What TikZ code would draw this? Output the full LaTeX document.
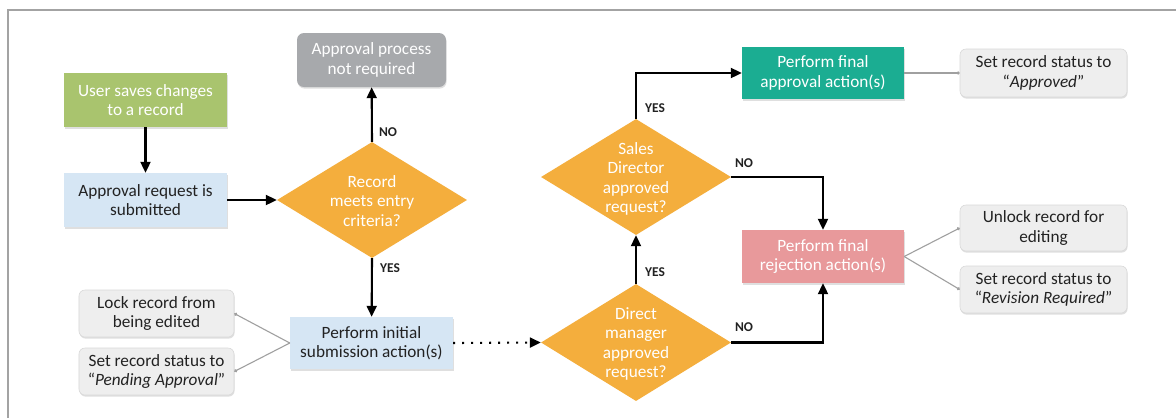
\documentclass[tikz,border=0pt]{standalone}
\usepackage{fontspec}
\setmainfont{Carlito}
\usetikzlibrary{arrows.meta,shapes.geometric,shadows}
\definecolor{frameG}{HTML}{A3A3A3}
\definecolor{greenF}{HTML}{A9C46E}
\definecolor{blueF}{HTML}{D6E6F4}
\definecolor{grayF}{HTML}{A7A9AC}
\definecolor{orangeF}{HTML}{F4AE3D}
\definecolor{tealF}{HTML}{1BAD92}
\definecolor{pinkF}{HTML}{E8999B}
\definecolor{noteF}{HTML}{EEEEEE}
\definecolor{noteD}{HTML}{D9D9D9}
\definecolor{txtD}{HTML}{222222}
\definecolor{connG}{HTML}{A0A0A0}
\tikzset{
  txt/.style={font=\fontsize{17.3}{19.5}\selectfont, align=center},
  boxw/.style={txt, rectangle, inner sep=0pt, text=white,
     drop shadow={shadow xshift=0.6bp, shadow yshift=-1.6bp, opacity=0.25}},
  boxd/.style={txt, rectangle, inner sep=0pt, text=txtD,
     drop shadow={shadow xshift=0.6bp, shadow yshift=-1.6bp, opacity=0.25}},
  note/.style={txt, rectangle, rounded corners=6bp, inner sep=0pt, fill=noteF,
     draw=noteD, line width=0.6bp, text=txtD, minimum width=155bp, minimum height=47bp,
     drop shadow={shadow xshift=0.6bp, shadow yshift=-1.6bp, opacity=0.25}},
  dia/.style={diamond, fill=orangeF, inner sep=0pt, minimum width=190bp, minimum height=116bp},
  dtext/.style={txt, text=white, inner sep=0pt},
  arr/.style={line width=2.1bp, -{Triangle[length=11bp,width=10bp]}},
  conn/.style={connG, line width=1.1bp, -{Circle[length=3.2bp]}},
  lbl/.style={font=\fontsize{13.5}{14}\selectfont\bfseries, text=txtD, inner sep=0pt},
}
\begin{document}
\begin{tikzpicture}[x=1bp,y=-1bp]
\useasboundingbox (0,0) rectangle (1176,418);
\fill[white] (0,0) rectangle (1176,418);
\draw[frameG, line width=2bp] (8,418) -- (8,10) -- (1176,10);

% nodes
\node[boxw, fill=greenF, minimum width=163bp, minimum height=54bp] (user) at (145.5,100) {User saves changes\\to a record};
\node[boxd, fill=blueF, minimum width=163bp, minimum height=54bp] (req) at (145.5,200) {Approval request is\\submitted};
\node[boxw, fill=grayF, rounded corners=7bp, minimum width=149bp, minimum height=54bp] (notreq) at (371.5,60) {Approval process\\not required};
\node[dia] (crit) at (372,200) {};
\node[dtext] at (372,201) {Record\\meets entry\\criteria?};
\node[boxd, fill=blueF, minimum width=163bp, minimum height=52bp] (init) at (371.5,343) {Perform initial\\submission action(s)};
\node[note] (lock) at (156.5,313.5) {Lock record from\\being edited};
\node[note] (pend) at (156.5,371.5) {Set record status to\\\textquotedblleft\textit{Pending Approval}\textquotedblright};
\node[dia, minimum height=117bp] (dm) at (636,342.5) {};
\node[dtext] at (636,344) {Direct\\manager\\approved\\request?};
\node[dia] (sd) at (636,177) {};
\node[dtext] at (636,179) {Sales\\Director\\approved\\request?};
\node[boxw, fill=tealF, minimum width=162bp, minimum height=52bp] (fapp) at (823,73) {Perform final\\approval action(s)};
\node[boxw, fill=pinkF, minimum width=162bp, minimum height=53bp] (frej) at (823,256.5) {Perform final\\rejection action(s)};
\node[note, minimum width=167bp, minimum height=48bp] (appr) at (1043.5,73) {Set record status to\\\textquotedblleft\textit{Approved}\textquotedblright};
\node[note, minimum width=167bp, minimum height=46bp] (unlock) at (1043.5,228) {Unlock record for\\editing};
\node[note, minimum width=167bp, minimum height=47bp] (rev) at (1043.5,289.5) {Set record status to\\\textquotedblleft\textit{Revision Required}\textquotedblright};

% arrows
\draw[arr] (user) -- (req);
\draw[arr] (req) -- (crit);
\draw[arr] (crit.north) -- (notreq);
\draw[arr] (crit.south) -- (init);
\draw[line width=2.1bp, dash pattern=on 2bp off 7bp, -{Triangle[length=11bp,width=10bp]}] (init.east) -- (dm.west);
\draw[arr] (dm.north) -- (sd.south);
\coordinate (c1) at (sd.north |- fapp.west);
\draw[arr] (sd.north) -- (c1) -- (fapp.west);
\coordinate (c2) at (sd.east -| frej.north);
\draw[arr] (sd.east) -- (c2) -- (frej.north);
\coordinate (c3) at (dm.east -| frej.south);
\draw[arr] (dm.east) -- (c3) -- (frej.south);

% labels
\node[lbl] at (388,132) {NO};
\node[lbl] at (390,268) {YES};
\node[lbl] at (655,108) {YES};
\node[lbl] at (744,163) {NO};
\node[lbl] at (655,272) {YES};
\node[lbl] at (744,327) {NO};

% connectors to notes
\draw[conn] (init.west) -- (lock.east);
\draw[conn] (init.west) -- (pend.east);
\draw[conn] (fapp.east) -- (appr.west);
\draw[conn] (frej.east) -- (unlock.west);
\draw[conn] (frej.east) -- (rev.west);
\end{tikzpicture}
\end{document}
